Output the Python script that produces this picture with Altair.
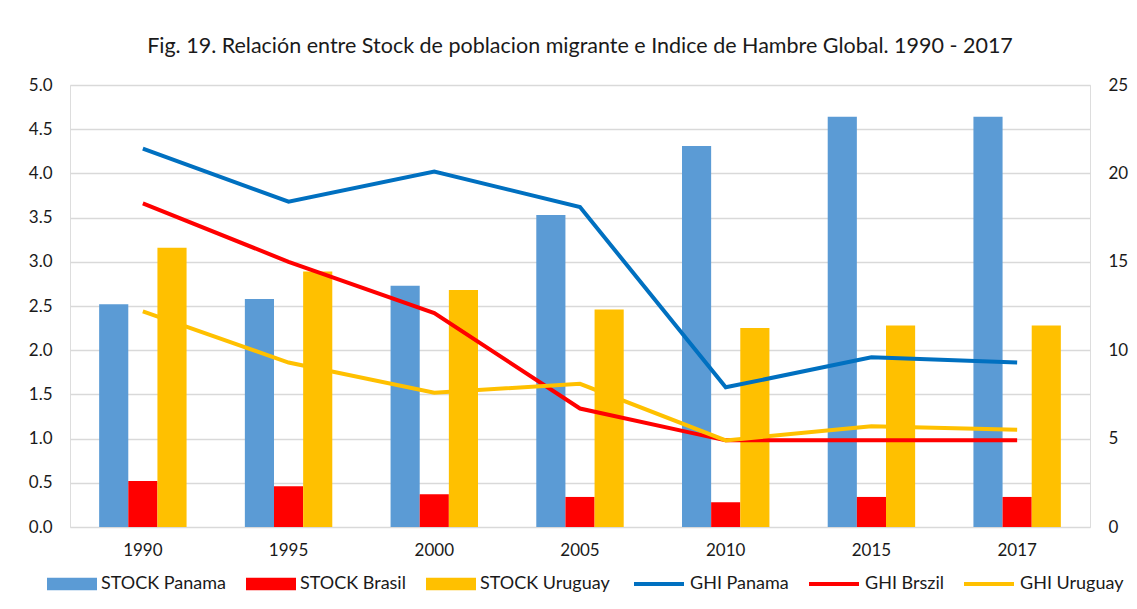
import altair as alt
import pandas as pd

years = ["1990", "1995", "2000", "2005", "2010", "2015", "2017"]

stock_series = ["STOCK Panama", "STOCK Brasil", "STOCK Uruguay"]
stock_colors = ["#5B9BD5", "#FF0000", "#FFC000"]
stock_panama = [2.52, 2.58, 2.73, 3.53, 4.31, 4.64, 4.64]
stock_brasil = [0.52, 0.46, 0.37, 0.34, 0.28, 0.34, 0.34]
stock_uruguay = [3.16, 2.89, 2.68, 2.46, 2.25, 2.28, 2.28]

ghi_series = ["GHI Panama", "GHI Brszil", "GHI Uruguay"]
ghi_colors = ["#0070C0", "#FF0000", "#FFC000"]
ghi_panama = [21.4, 18.4, 20.1, 18.1, 7.9, 9.6, 9.3]
ghi_brasil = [18.3, 15.0, 12.1, 6.7, 4.9, 4.9, 4.9]
ghi_uruguay = [12.2, 9.3, 7.6, 8.1, 4.9, 5.7, 5.5]

left_ticks = [0, 0.5, 1, 1.5, 2, 2.5, 3, 3.5, 4, 4.5, 5]
right_ticks = [0, 5, 10, 15, 20, 25]

title_text = "Fig. 19. Relación entre Stock de poblacion migrante e Indice de Hambre Global. 1990 - 2017"

rows = []
for name, vals in zip(stock_series, [stock_panama, stock_brasil, stock_uruguay]):
    for y, v in zip(years, vals):
        rows.append({"year": y, "series": name, "value": v})
bars_df = pd.DataFrame(rows)

rows = []
for name, vals in zip(ghi_series, [ghi_panama, ghi_brasil, ghi_uruguay]):
    for y, v in zip(years, vals):
        rows.append({"year": y, "series": name, "ghi": v})
lines_df = pd.DataFrame(rows)

FONT = "Lato"
TXT = "#1a1a1a"

bars = alt.Chart(bars_df).mark_bar().encode(
    x=alt.X("year:N", sort=years, title=None,
            scale=alt.Scale(paddingInner=0.4, paddingOuter=0.2),
            axis=alt.Axis(labelAngle=0, domain=False, ticks=False, labelPadding=15,
                          labelFontSize=17, labelFont=FONT, labelColor=TXT)),
    xOffset=alt.XOffset("series:N", sort=stock_series, scale=alt.Scale(paddingInner=0, paddingOuter=0)),
    y=alt.Y("value:Q", title=None,
            scale=alt.Scale(domain=[0, 5], nice=False),
            axis=alt.Axis(values=left_ticks, format=".1f", grid=True, gridColor="#d9d9d9",
                          gridWidth=1.5, domain=False, ticks=False, labelPadding=18,
                          labelFontSize=17, labelFont=FONT, labelColor=TXT)),
    fill=alt.Fill("series:N", sort=stock_series,
                  scale=alt.Scale(domain=stock_series, range=stock_colors),
                  legend=alt.Legend(orient="none", legendX=-23, legendY=474, direction="horizontal",
                                    columns=3, title=None, symbolType="M-1,-0.25H1V0.25H-1Z",
                                    symbolSize=2500, symbolStrokeWidth=0, symbolOpacity=1,
                                    labelFontSize=18, labelFont=FONT, labelColor=TXT,
                                    columnPadding=20, labelOffset=4, padding=0)),
)

lines = alt.Chart(lines_df).mark_line(strokeWidth=4).encode(
    x=alt.X("year:N", sort=years),
    y=alt.Y("ghi:Q", title=None,
            scale=alt.Scale(domain=[0, 25], nice=False),
            axis=alt.Axis(orient="right", values=right_ticks, grid=False, domain=False, ticks=False,
                          labelPadding=18, labelFontSize=17, labelFont=FONT, labelColor=TXT)),
    stroke=alt.Stroke("series:N", sort=ghi_series,
                      scale=alt.Scale(domain=ghi_series, range=ghi_colors),
                      legend=alt.Legend(orient="none", legendX=562, legendY=472, direction="horizontal",
                                        columns=3, title=None, symbolType="stroke",
                                        symbolSize=2500, symbolStrokeWidth=4,
                                        labelFontSize=18, labelFont=FONT, labelColor=TXT,
                                        columnPadding=12, labelOffset=4, padding=0)),
)

chart = alt.layer(bars, lines).resolve_scale(y="independent").properties(
    width=1020, height=442,
    padding={"left": 62, "top": 77, "right": 39, "bottom": 74},
    autosize=alt.AutoSizeParams(type="none"),
    title=alt.TitleParams(text=title_text, anchor="middle", fontSize=21.5, font=FONT,
                          fontWeight="normal", color=TXT, offset=19),
).configure_view(stroke=None).configure(background="white")

chart.save("out.html", embed_options={"renderer": "svg", "actions": False})
